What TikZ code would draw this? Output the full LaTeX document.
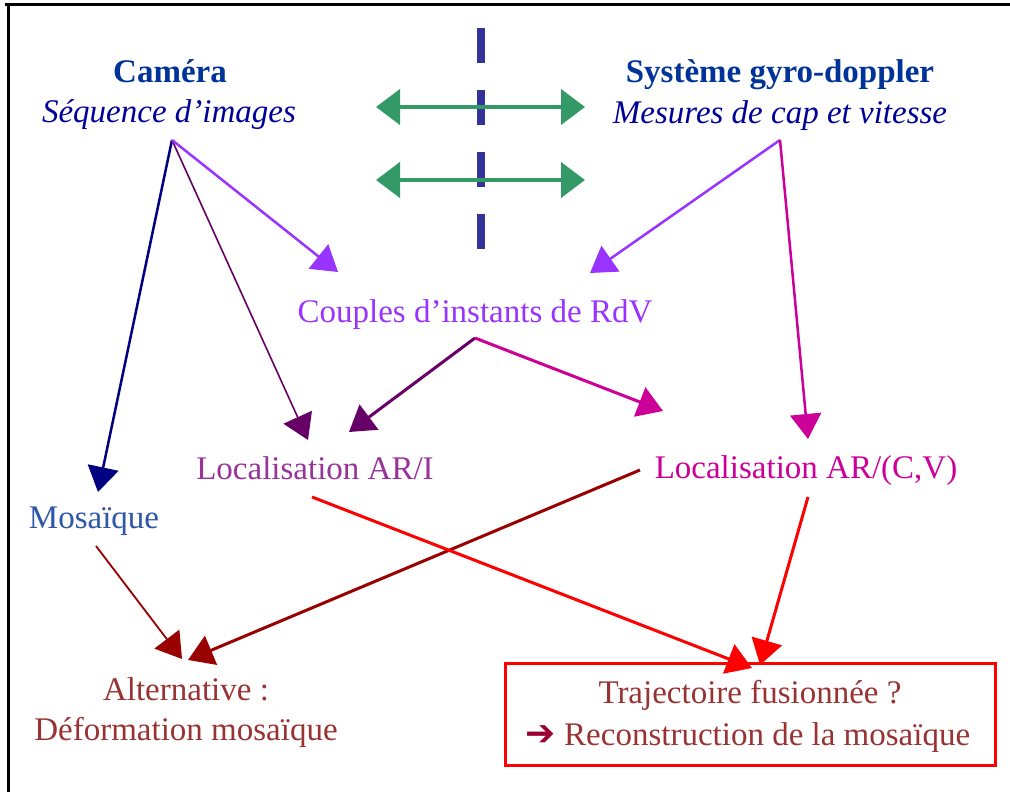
\documentclass[tikz,border=0pt]{standalone}
\usepackage{fontspec}
\setmainfont{Liberation Serif}
\newfontfamily\symfont{DejaVu Sans}
\usetikzlibrary{arrows.meta}
\definecolor{titleblue}{HTML}{003399}
\definecolor{italblue}{HTML}{000099}
\definecolor{violetc}{HTML}{9933FF}
\definecolor{darkpurple}{HTML}{660066}
\definecolor{purpletext}{HTML}{993399}
\definecolor{magentac}{HTML}{CC0099}
\definecolor{mosblue}{HTML}{2E56A8}
\definecolor{navyc}{HTML}{000080}
\definecolor{darkredc}{HTML}{990000}
\definecolor{brownred}{HTML}{993333}
\definecolor{arrowred}{HTML}{990033}
\definecolor{greenc}{HTML}{339966}
\definecolor{dashblue}{HTML}{333399}
\tikzset{
  txt/.style={anchor=base, inner sep=0pt, font=\fontsize{33}{40}\selectfont},
  conn/.style={line width=#1, -{Triangle[length=25pt,width=31pt]}},
  conn/.default=3pt,
  dbl/.style={greenc, line width=4.5pt, {Triangle[length=24pt,width=35pt]}-{Triangle[length=24pt,width=35pt]}},
}
\begin{document}
\begin{tikzpicture}[x=1pt,y=-1pt]
\useasboundingbox (0,0) rectangle (1010,792);
% frame
\coordinate (ftl) at (5,5);
\coordinate (ftr) at (1010,5);
\coordinate (fl1) at (8,5);
\coordinate (fl2) at (8,792);
\draw[line width=3pt] (ftl) -- (ftr);
\draw[line width=3pt] (fl1) -- (fl2);
% dashed separator
\coordinate (dtop) at (481,28);
\coordinate (dbot) at (481,276);
\draw[dashblue, line width=8pt, dash pattern=on 35pt off 27pt] (dtop) -- (dbot);
% green double arrows
\coordinate (g1l) at (376,107);
\coordinate (g1r) at (585,107);
\coordinate (g2l) at (376,180);
\coordinate (g2r) at (585,180);
\draw[dbl] (g1l) -- (g1r);
\draw[dbl] (g2l) -- (g2r);
% texts
\node[txt, titleblue] (cam) at (170,82) {\bfseries Caméra};
\node[txt, italblue] (seq) at (169,122) {\itshape Séquence d’images};
\node[txt, titleblue] (gyro) at (780,82) {\bfseries Système gyro-doppler};
\node[txt, italblue] (mes) at (780,124) {\itshape Mesures de cap et vitesse};
\node[txt, violetc] (coup) at (475,322) {Couples d’instants de RdV};
\node[txt, purpletext] (locari) at (315,479) {Localisation AR/I};
\node[txt, magentac] (loccv) at (806,478) {Localisation AR/(C,V)};
\node[txt, mosblue] (mos) at (94,528) {Mosaïque};
\node[txt, brownred] (alt1) at (186,700) {Alternative :};
\node[txt, brownred] (alt2) at (186,740) {Déformation mosaïque};
\node[draw=red, line width=3pt, minimum width=490pt, minimum height=102pt, inner sep=0pt] (box) at (750,714) {};
\node[txt, brownred] (traj1) at (750,703) {Trajectoire fusionnée ?};
\node[txt, brownred] (traj2) at (748,745) {{\symfont\color{arrowred}\fontsize{36}{40}\selectfont ➔} Reconstruction de la mosaïque};
% connection points
\coordinate (camout) at (172,140);
\coordinate (gyroout) at (780,140);
\coordinate (coupout) at (475,338);
\coordinate (coupinL) at (338,272);
\coordinate (coupinR) at (590,273);
\coordinate (mosin) at (98,492);
\coordinate (mosout) at (96,546);
\coordinate (locariinA) at (308,440);
\coordinate (locariinB) at (349,432);
\coordinate (locariout) at (312,497);
\coordinate (loccvinA) at (663,411);
\coordinate (loccvinB) at (808,439);
\coordinate (loccvoutL) at (640,470);
\coordinate (loccvoutB) at (808,497);
\coordinate (altinA) at (182,659);
\coordinate (altinB) at (188,660);
\coordinate (trajinA) at (752,668);
\coordinate (trajinB) at (760,665);
% connectors
\draw[conn=2.5pt, navyc] (camout) -- (mosin);
\draw[conn=1.6pt, darkpurple] (camout) -- (locariinA);
\draw[conn=2.5pt, violetc] (camout) -- (coupinL);
\draw[conn=2.5pt, violetc] (gyroout) -- (coupinR);
\draw[conn=2.5pt, magentac] (gyroout) -- (loccvinB);
\draw[conn=3pt, darkpurple] (coupout) -- (locariinB);
\draw[conn=3pt, magentac] (coupout) -- (loccvinA);
\draw[conn=1.8pt, darkredc] (mosout) -- (altinA);
\draw[conn=3pt, darkredc] (loccvoutL) -- (altinB);
\draw[conn=3pt, red] (locariout) -- (trajinA);
\draw[conn=3pt, red] (loccvoutB) -- (trajinB);
\end{tikzpicture}
\end{document}
